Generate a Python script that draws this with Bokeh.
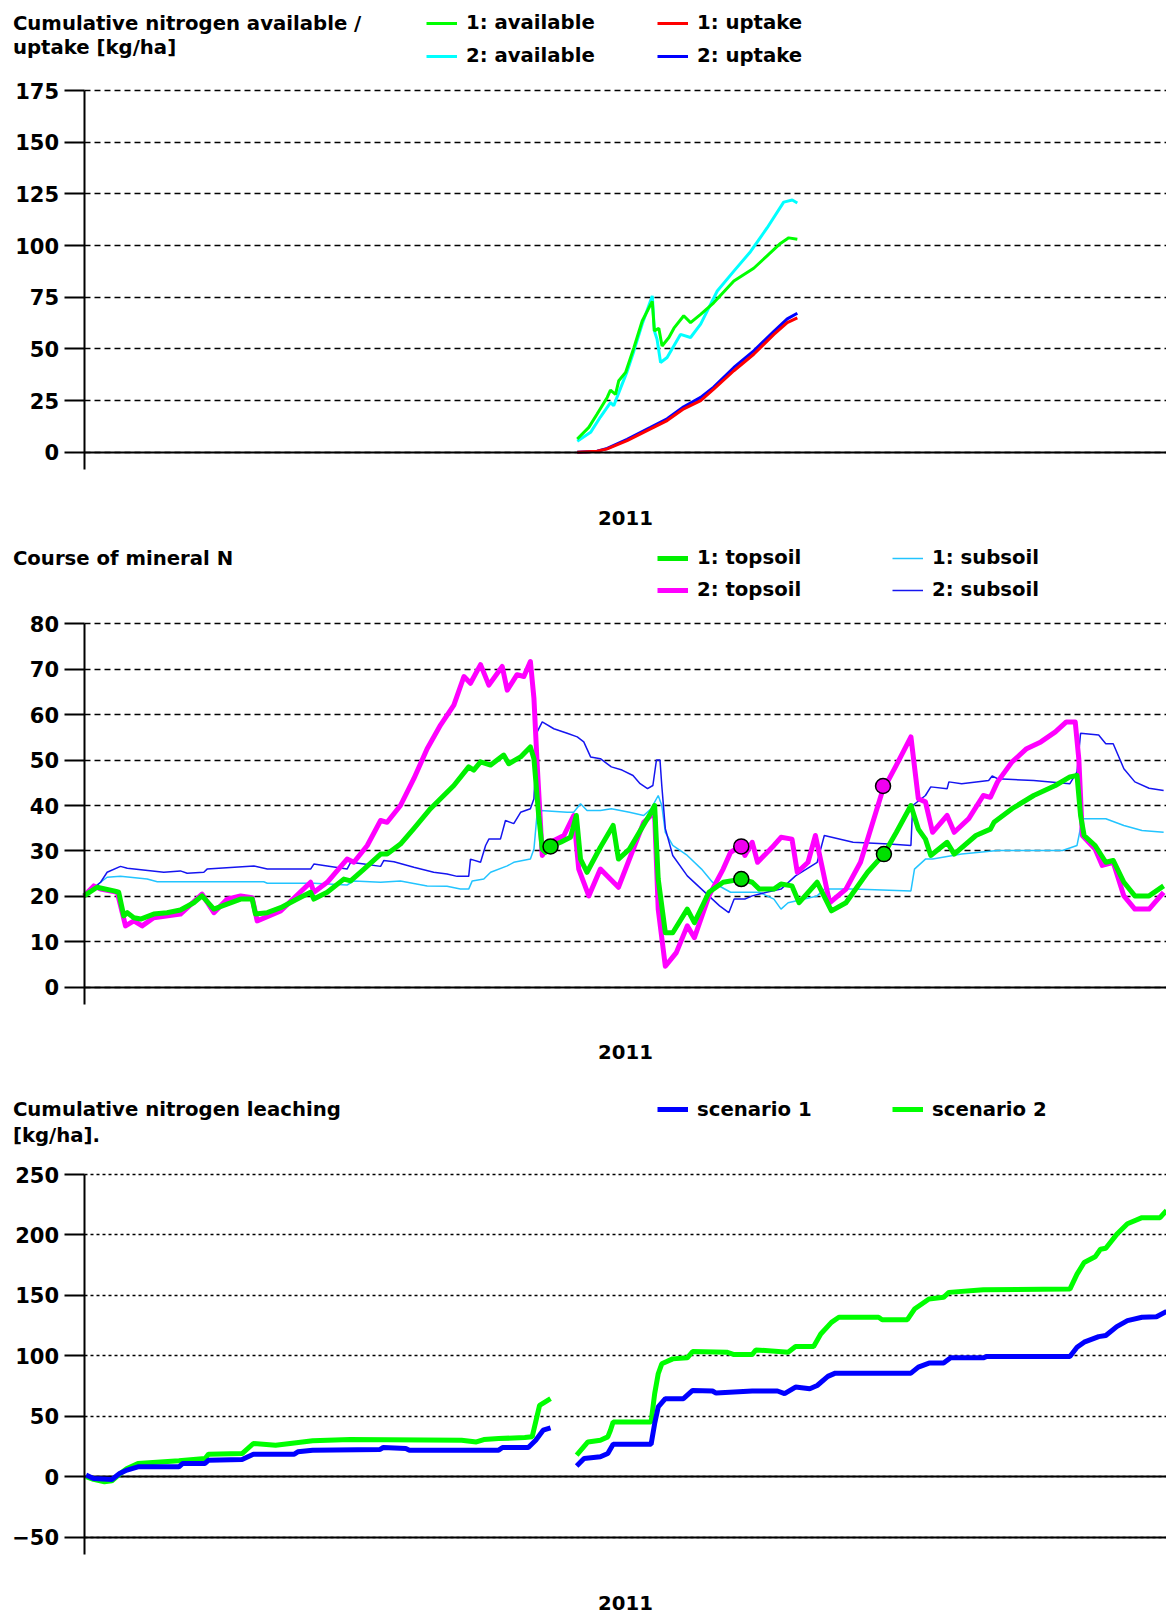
from bokeh.plotting import figure
from bokeh.layouts import column
from bokeh.models import FixedTicker, Label, Legend, LegendItem, Grid
from bokeh.embed import file_html
from bokeh.resources import INLINE

NaN = float("nan")

# ---------------- Panel 1: cumulative N available / uptake (x = day of 2011) -------------
p1_day_avail1 = [166.3, 170.2, 173.0, 176.4, 177.5, 179.2, 180.3, 182.6, 185.4, 188.2, 191.6, 192.3,
                 193.8, 194.9, 197.2, 198.9, 202.2, 204.5, 207.9, 212.3, 219.1, 225.8, 230.3, 234.8,
                 237.6, 240.5]
p1_avail1 = [6.4, 12, 18.5, 26.5, 30, 28, 34.6, 38.6, 50.6, 63.5, 73, 58.7,
             60, 51.4, 55.5, 60, 66, 62.7, 66.7, 72.3, 82.8, 89, 95, 101,
             103.7, 103]
p1_day_avail2 = [166.3, 170.8, 174.1, 177.5, 178.6, 180.9, 183.1, 185.4, 188.2, 191.6, 192.3, 193.2,
                 194.4, 196.6, 201.1, 204.5, 207.9, 213.5, 219.1, 224.7, 230.3, 235.9, 238.8, 240.5]
p1_avail2 = [5.3, 9.6, 17, 24, 22.5, 31, 39, 49, 62, 75.6, 58.7, 54.7,
             43.4, 45.8, 57, 55.5, 62, 78, 87.6, 97, 108.5, 121, 122, 120.6]
p1_day_uptake = [166.3, 173.0, 176.4, 183.1, 191.0, 196.6, 202.2, 207.9, 212.3, 219.1, 225.8, 232.6,
                 237.1, 240.5]
p1_uptake1 = [0, 0.5, 1.6, 5.6, 11.3, 15.3, 21, 25, 30.5, 39.4, 47.4, 57, 62.7, 65]
p1_uptake2 = [0, 0.5, 1.8, 6.2, 12, 16.2, 22, 26.5, 31.5, 41, 49, 58.5, 64.5, 67.2]
p1_yticks = [0, 25, 50, 75, 100, 125, 150, 175]

# ---------------- Panel 2: course of mineral N ------------------------------------------
p2_day_top1 = [0, 4.4, 10.1, 11.7, 13.4, 14.6, 16.8, 19.1, 23.5, 28.0, 32.5, 37.0, 39.8, 43.8, 47.1,
               52.8, 56.7, 57.8, 61.8, 66.3, 71.9, 76.4, 77.5, 82.0, 87.6, 89.9, 94.4, 100.0, 102.2,
               106.7, 111.2, 116.8, 124.7, 129.7, 131.4, 133.7, 137.1, 141.5, 143.2, 147.2, 150.5,
               151.7, 153.3, 154.5, 155.6, 157.3, 160.7, 164.0, 166.0, 167.4, 169.6, 174.1,
               178.4, 180.2, 183.9, 191.2, 192.4, 193.6, 196.0, 198.5, 203.4, 205.8, 210.7, 215.5,
               221.6, 225.3, 227.7, 232.6, 235.0, 238.7, 241.1, 247.2, 252.0, 256.9, 264.2, 269.7,
               273.9, 278.8, 281.3, 283.7, 285.5, 291.0, 293.4, 300.7, 305.6, 306.8, 312.9, 320.2,
               327.5, 332.4, 334.8, 336.0, 337.2, 340.9, 344.5, 347.0, 350.6, 354.3, 359.1, 364.0]
p2_top1 = [20.1, 22, 21.2, 20.9, 15.7, 16.4, 15.3, 15, 16.1, 16.4, 17, 18.6, 20.1, 17.2, 18,
           19.4, 19.4, 16.1, 16.4, 17.5, 19.4, 20.9, 19.4, 20.9, 23.8, 23.4, 26, 29.3, 29.3,
           31.5, 34.9, 39.3, 44.4, 48.5, 47.8, 49.6, 48.9, 51.1, 49.2, 50.7, 52.9,
           50.3, 37.8, 30.4, 29.7, 31, 31.9, 33, 37.8, 28.2, 25.3, 30.8,
           35.6, 28.2, 30.4, 38.5, 40, 23.8, 12, 12, 17.2, 14.2, 20.9, 23.1,
           23.8, 23.1, 21.6, 21.6, 22.7, 22.3, 18.6, 23.1, 16.8, 18.6, 25.3, 29.3,
           34.1, 40, 34.8, 32.6, 29, 31.9, 29.3, 33.4, 34.8, 36.3, 39.3, 42.2,
           44.4, 46.3, 46.6, 37.8, 33.4, 31.2, 27.5, 27.9, 23.1, 20.1, 20.1, 22.3]

p2_day_top2 = [0, 3.3, 5.6, 11.2, 14.0, 16.8, 19.6, 23.5, 32.5, 39.8, 43.8, 48.3, 52.8, 56.7, 58.4,
               66.3, 76.4, 77.5, 82.0, 88.7, 91.0, 95.5, 100.0, 102.2, 106.7, 111.2, 115.7, 120.2,
               124.7, 128.1, 130.3, 133.7, 136.5, 141.0, 142.7, 146.0, 148.3, 150.5, 151.7, 152.8,
               154.5, 157.3, 161.8, 165.1, 166.8, 170.2, 174.1,
               180.2, 188.7, 191.2, 192.4, 193.6, 196.0, 199.7, 203.4, 205.8, 210.7, 215.5, 218.0,
               221.6, 222.8, 225.3, 227.1, 232.6, 235.0, 238.7, 240.5, 244.1, 246.6, 249.0, 251.4,
               256.9, 261.8, 269.1, 273.9, 278.8, 281.3, 283.7, 286.1, 291.0, 293.4, 298.3, 303.2,
               305.6, 308.0, 312.9, 317.8, 322.6, 327.5, 331.2, 334.2, 335.4, 336.6, 340.9, 343.3,
               347.0, 350.6, 354.3, 359.1, 364.0]
p2_top2 = [20.1, 22.3, 21.6, 20.9, 13.5, 14.6, 13.5, 15.3, 16.1, 20.5, 16.4, 19.4, 20.1, 19.7, 14.6,
           16.8, 23.1, 20.9, 23.1, 28.2, 27.5, 31.2, 36.7, 36.3, 40, 45.9, 52.5, 57.7,
           62.1, 68.4, 66.9, 71, 66.5, 70.6, 65.4, 68.8, 68.4, 71.7, 63.6, 48.9,
           29, 31.9, 33.4, 37.8, 26, 20.1, 26,
           22, 36.3, 37.8, 37.8, 17.2, 4.6, 7.6, 13.5, 10.9, 20.1, 26, 29.7,
           31.2, 29, 31.9, 27.5, 31.2, 33, 32.6, 25.3, 27.5, 33.4, 26, 18.6,
           21.6, 27.5, 43, 48.9, 55.1, 41.5, 40.8, 34.1, 37.8, 34.1, 37.1, 42.2,
           41.8, 45.2, 49.6, 52.5, 54, 56.2, 58.4, 58.4, 50.3, 33.4, 30.4, 26.8,
           27.5, 20.1, 17.2, 17.2, 20.9]

p2_day_sub1 = [0, 5.6, 7.8, 12.3, 21.3, 24.7, 60.6, 61.8, 77.5, 88.7, 91.0, 100.0, 106.7, 115.7,
               122.4, 126.9, 129.7, 130.9, 134.8, 137.1, 142.7, 144.9, 150.5, 151.7, 152.8, 153.9,
               162.9, 165.1, 167.4, 169.6, 174.1,
               177.8, 183.9, 188.7, 191.2, 193.6, 194.8, 196.0, 198.5, 203.4, 208.2, 211.9, 218.0,
               227.7, 232.6, 235.0, 237.4, 247.2, 249.6, 259.3, 278.8, 280.0, 283.7, 286.1, 295.9,
               308.0, 329.9, 334.8, 336.6, 344.5, 350.6, 356.7, 364.0]
p2_sub1 = [20.1, 23.1, 24.2, 24.4, 23.8, 23.2, 23.2, 22.9, 22.9, 22.5, 23.4, 23.1, 23.4, 22.3,
           22.2, 21.6, 21.6, 23.4, 23.8, 25.3, 26.7, 27.5, 28.2, 30.4, 38.5, 38.9,
           38.5, 38.5, 40.4, 38.9, 38.9,
           39.3, 38.5, 37.8, 39.3, 42.2, 40, 34.1, 31.2, 29, 26, 23.1, 20.9,
           20.9, 19.4, 17.2, 18.6, 20.1, 21.6, 21.6, 21.2, 26, 28.2, 28.2, 29.3,
           30.1, 30.1, 31.2, 37.1, 37.1, 35.6, 34.5, 34.1]

p2_day_sub2 = [0, 5.6, 7.8, 12.3, 14.6, 26.9, 32.5, 34.8, 40.4, 41.5, 57.3, 61.8, 76.4, 77.5, 88.7,
               89.9, 94.4, 100.0, 101.1, 104.5, 111.2, 117.9, 122.4, 125.8, 129.7, 130.3, 133.7,
               135.4, 136.5, 140.4, 142.1, 144.9, 147.2, 150.5, 151.7, 152.8, 154.5, 158.4, 162.9,
               166.3, 168.5, 170.8, 174.1,
               177.8, 181.4, 185.1, 187.5, 190.0, 191.8, 193.0, 194.2, 194.8, 196.0, 198.5, 203.4,
               208.2, 214.3, 217.4, 219.2, 222.8, 225.3, 230.1, 235.0, 239.9, 247.2, 249.6, 259.3,
               271.5, 278.8, 279.4, 283.7, 285.5, 291.0, 291.6, 295.9, 305.0, 306.2, 308.0, 320.2,
               332.4, 334.8, 336.0, 342.1, 344.5, 347.0, 350.6, 354.3, 359.1, 364.0]
p2_sub2 = [20.1, 23.1, 25.3, 26.6, 26.2, 25.3, 25.6, 25.1, 25.3, 26, 26.7, 26, 26, 27.1, 26,
           27.5, 27.1, 26.6, 27.9, 27.6, 26.4, 25.3, 24.9, 24.4, 24.4, 28.2, 27.5,
           31.2, 32.6, 32.6, 36.7, 36, 38.5, 39.3, 41.5, 56.2, 58.4, 56.9, 55.9,
           55.1, 54, 50.7, 50.3,
           48.5, 47.8, 46.6, 44.8, 43.7, 44.4, 50, 50, 44.4, 34.9, 29, 24.5,
           21.6, 17.9, 16.4, 19.4, 19.4, 20.1, 20.9, 21.6, 24.5, 27.5, 33.4, 31.9,
           31.5, 31.2, 40, 42.2, 44.1, 43.7, 45.2, 44.8, 45.5, 46.5, 45.9, 45.5,
           44.8, 47.4, 55.9, 55.5, 53.6, 53.6, 48.1, 45.2, 43.8, 43.3]

# measured values (dots)
p2_meas1_day = [157.3, 221.6, 269.7]
p2_meas1 = [31.0, 23.8, 29.3]
p2_meas2_day = [221.6, 269.4]
p2_meas2 = [31.0, 44.3]
p2_yticks = [0, 10, 20, 30, 40, 50, 60, 70, 80]

# ---------------- Panel 3: cumulative nitrogen leaching ---------------------------------
p3_day_s1 = [0.7, 3.2, 9.4, 12.0, 14.5, 18.2, 32.0, 33.3, 40.8, 42.0, 53.3, 57.1, 70.9, 72.1, 77.1,
             99.7, 100.9, 108.5, 109.7, 139.8, 141.1, 149.8, 152.3, 154.8, 157.3, 161.0,
             166.1, 168.6, 174.1, 176.6, 178.4, 191.2, 192.4, 193.6, 196.0, 202.1, 205.2, 211.9,
             213.1, 225.3, 233.8, 236.2, 239.9, 244.7, 247.2, 250.8, 253.3, 278.8, 281.3, 284.9,
             289.8, 292.2, 303.2, 304.4, 332.4, 334.8, 337.2, 342.1, 344.5, 348.2, 351.8, 356.7,
             361.6, 365.0]
p3_s1 = [1.4, -1.4, -2.2, 2.7, 5.5, 8.2, 8.2, 11, 11, 13.7, 14.3, 18.7, 18.7, 20.6, 22,
         22.5, 24.2, 23.4, 22, 22, 24.2, 24.2, 30.2, 38.5, 40.4, NaN,
         8.8, 15.1, 16.5, 19.2, 26.9, 26.9, 44, 57.7, 64.6, 64.6, 71.4, 70.9,
         69.2, 70.9, 70.9, 68.7, 74.2, 72.8, 75.5, 83, 85.7, 85.7, 90.7, 94,
         94, 98.4, 98.4, 99.5, 99.5, 107.1, 111.3, 115.9, 116.8, 124.2, 129.1, 131.9,
         132.4, 136.8]
p3_day_s2 = [0.7, 3.2, 6.9, 9.4, 12.0, 14.5, 18.2, 32.0, 40.8, 42.0, 53.3, 57.1, 64.6, 70.9, 77.1,
             89.7, 127.3, 132.3, 134.8, 139.8, 148.6, 151.1, 153.6, 157.3, 161.0,
             166.1, 169.9, 174.1, 176.6, 177.5, 178.4, 191.2, 192.4, 193.6, 194.8, 198.5, 203.4,
             205.2, 216.7, 219.2, 225.3, 226.5, 237.4, 239.9, 246.0, 248.4, 252.0, 254.5, 267.9,
             269.1, 277.6, 280.0, 284.9, 289.8, 291.6, 303.2, 332.4, 334.8, 337.2, 340.9, 342.7,
             344.5, 348.2, 351.8, 356.7, 362.8, 365.0]
p3_s2 = [0, -2.2, -4.1, -3.3, 2.2, 6.9, 11, 13.2, 15.1, 18.7, 19.2, 27.5, 26.1, 28, 29.7,
         30.8, 30.2, 28.8, 30.8, 31.6, 32.4, 33, 59, 64.6, NaN,
         17.9, 28.8, 30.2, 33, 38.5, 45.3, 45.3, 68.7, 85.2, 93.4, 97.5, 98.4,
         103.6, 103, 101.1, 101.1, 104.9, 103, 107.7, 107.7, 118.1, 127.7, 131.9, 131.9,
         129.9, 129.9, 138.7, 147, 148.4, 152.5, 154.7, 155.2, 167.6, 177.2, 181.9, 188.2,
         189, 200.5, 209.3, 214.3, 214.3, 220.3]
p3_yticks = [-50, 0, 50, 100, 150, 200, 250]

YEAR = "2011"
FONT = "DejaVu Sans"
FS = "19.7px"
TICK_FS = "21px"

W = 1166
PX_PER_DAY = 2.966          # horizontal scale of the time axis
AXIS_X = 83.5               # canvas x of day 0 (the y axis)
X_START = -AXIS_X / PX_PER_DAY
X_END = (W - AXIS_X) / PX_PER_DAY
HAS_CROSS = "cross_bounds" in Grid.properties()


def make_panel(height, y_base_px, base_val, top_val, top_px, yticks, dash, label_standoff):
    """y_base_px / top_px: canvas rows of the baseline value and of the top tick."""
    k = (y_base_px - top_px) / (top_val - base_val)
    y_hi = top_val + top_px / k
    y_lo = base_val - (height - y_base_px) / k
    p = figure(width=W, height=height, x_range=(X_START, X_END), y_range=(y_lo, y_hi),
               output_backend="svg", toolbar_location=None, tools="", title=None,
               min_border=0, min_border_left=0, min_border_right=0,
               min_border_top=0, min_border_bottom=0)
    p.outline_line_color = None
    p.background_fill_color = "white"
    p.border_fill_color = "white"
    p.xgrid.visible = False
    p.ygrid.ticker = FixedTicker(ticks=yticks)
    p.ygrid.grid_line_color = "black"
    p.ygrid.grid_line_dash = dash
    p.ygrid.grid_line_width = 1.3
    if HAS_CROSS:
        p.ygrid.cross_bounds = (0, X_END)
    ya = p.yaxis[0]
    ya.fixed_location = 0
    ya.bounds = (base_val - 17 / k, top_val)
    ya.ticker = FixedTicker(ticks=yticks)
    ya.axis_line_width = 2
    ya.axis_line_color = "black"
    ya.major_tick_line_width = 2
    ya.major_tick_line_color = "black"
    ya.major_tick_out = 20
    ya.major_tick_in = 0
    ya.minor_tick_line_color = None
    ya.major_label_standoff = 5
    ya.major_label_text_font = FONT
    ya.major_label_text_font_style = "bold"
    ya.major_label_text_font_size = TICK_FS
    ya.major_label_text_color = "black"
    xa = p.xaxis[0]
    xa.fixed_location = base_val
    xa.bounds = (0, X_END)
    xa.ticker = FixedTicker(ticks=[])
    xa.axis_line_width = 2
    xa.axis_line_color = "black"
    xa.major_tick_out = 0
    xa.major_tick_in = 0
    xa.major_label_standoff = 0
    xa.minor_tick_line_color = None
    xa.axis_label = YEAR
    xa.axis_label_text_font = FONT
    xa.axis_label_text_font_style = "bold"
    xa.axis_label_text_font_size = FS
    xa.axis_label_text_color = "black"
    xa.axis_label_standoff = label_standoff
    return p


def text(p, x, y, s):
    p.add_layout(Label(x=x, y=y, x_units="screen", y_units="screen", text=s,
                       text_font=FONT, text_font_style="bold", text_font_size=FS,
                       text_baseline="middle", text_align="left", text_color="black"))


def legend(p, items, x, y, spacing):
    lg = Legend(items=items, location=(x, y), orientation="vertical",
                glyph_width=31, glyph_height=24, label_height=24, label_standoff=9,
                spacing=spacing, padding=0, margin=0, border_line_color=None,
                background_fill_alpha=0, label_text_font=FONT,
                label_text_font_style="bold", label_text_font_size=FS,
                label_text_color="black")
    p.add_layout(lg)


# ---------- Panel 1 (canvas 0..540) ----------
p1 = make_panel(540, 451.7, 0, 175, 90.0, p1_yticks, "6 4", 58)
r_a2 = p1.line(p1_day_avail2, p1_avail2, line_color="#00FFFF", line_width=3)
r_a1 = p1.line(p1_day_avail1, p1_avail1, line_color="#00FF00", line_width=3)
r_u2 = p1.line(p1_day_uptake, p1_uptake2, line_color="#0000FF", line_width=3)
r_u1 = p1.line(p1_day_uptake, p1_uptake1, line_color="#FF0000", line_width=3)
text(p1, 12.4, 540 - 22.7, "Cumulative nitrogen available /")
text(p1, 12.4, 540 - 47.4, "uptake [kg/ha]")
legend(p1, [LegendItem(label="1: available", renderers=[r_a1]),
            LegendItem(label="2: available", renderers=[r_a2])], 426, 540 - 67.7, 9)
legend(p1, [LegendItem(label="1: uptake", renderers=[r_u1]),
            LegendItem(label="2: uptake", renderers=[r_u2])], 657, 540 - 67.7, 9)

# ---------- Panel 2 (canvas 540..1080) ----------
p2 = make_panel(540, 446.7, 0, 80, 83.3, p2_yticks, "6 4", 57)
r_s1 = p2.line(p2_day_sub1, p2_sub1, line_color="#22C4FF", line_width=1.5)
r_s2 = p2.line(p2_day_sub2, p2_sub2, line_color="#1515F0", line_width=1.5)
r_t2 = p2.line(p2_day_top2, p2_top2, line_color="#FF00FF", line_width=5, line_join="round")
r_t1 = p2.line(p2_day_top1, p2_top1, line_color="#00F000", line_width=5, line_join="round")
p2.scatter(p2_meas1_day, p2_meas1, size=15, fill_color="#00E000", line_color="black", line_width=1.5)
p2.scatter(p2_meas2_day, p2_meas2, size=15, fill_color="#F000F0", line_color="black", line_width=1.5)
text(p2, 12.4, 540 - 17.8, "Course of mineral N")
legend(p2, [LegendItem(label="1: topsoil", renderers=[r_t1]),
            LegendItem(label="2: topsoil", renderers=[r_t2])], 657, 540 - 61.8, 8)
legend(p2, [LegendItem(label="1: subsoil", renderers=[r_s1]),
            LegendItem(label="2: subsoil", renderers=[r_s2])], 892, 540 - 61.8, 8)

# ---------- Panel 3 (canvas 1080..1616) ----------
p3 = make_panel(536, 456.7, -50, 250, 94.0, p3_yticks, "3 3", 58)
if HAS_CROSS:
    p3.add_layout(Grid(dimension=1, ticker=FixedTicker(ticks=[0]), grid_line_color="black",
                       grid_line_width=2, cross_bounds=(0, X_END)))
else:
    p3.segment(x0=[0], y0=[0], x1=[X_END], y1=[0], line_color="black", line_width=2)
r_c2 = p3.line(p3_day_s2, p3_s2, line_color="#00FF00", line_width=5)
r_c1 = p3.line(p3_day_s1, p3_s1, line_color="#0000FF", line_width=5)
text(p3, 12.4, 536 - 29.4, "Cumulative nitrogen leaching")
text(p3, 12.4, 536 - 55.1, "[kg/ha].")
legend(p3, [LegendItem(label="scenario 1", renderers=[r_c1])], 657, 536 - 41.4, 8)
legend(p3, [LegendItem(label="scenario 2", renderers=[r_c2])], 892, 536 - 41.4, 8)

layout = column(p1, p2, p3, spacing=0)
open("out.html", "w").write(file_html(layout, INLINE))
